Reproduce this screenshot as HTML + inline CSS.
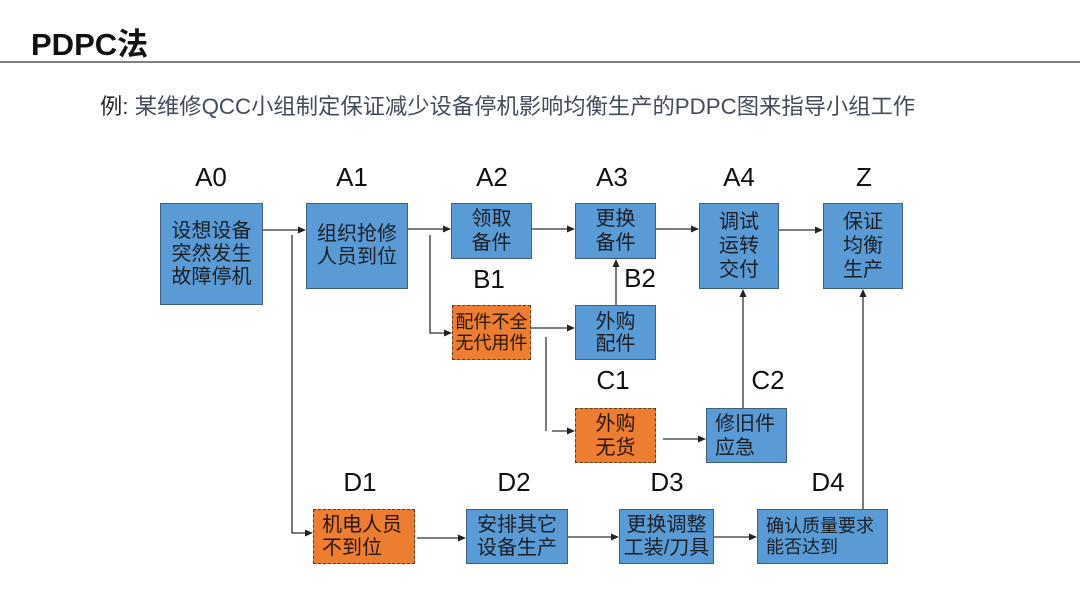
<!DOCTYPE html>
<html>
<head>
<meta charset="utf-8">
<style>
  html,body{margin:0;padding:0;background:#fff;}
  body{width:1080px;height:608px;position:relative;overflow:hidden;
       font-family:"Liberation Sans","Noto Sans CJK SC",sans-serif;}
  .title{position:absolute;left:31px;top:25px;font-size:31px;font-weight:bold;color:#111;line-height:40px;}
  .rule{position:absolute;left:0;top:61px;width:1080px;height:2px;background:#808080;}
  .sub{position:absolute;left:100px;top:94px;font-size:22.3px;line-height:26px;color:#434c5a;white-space:nowrap;}
  .sub b{font-weight:normal;color:#2b2b2b;}
  .box{position:absolute;box-sizing:border-box;display:flex;flex-direction:column;justify-content:center;align-items:center;
       font-size:20px;line-height:23px;color:#1a1f26;text-align:center;white-space:nowrap;}
  .blue{background:#5b9bd5;border:1.5px solid #3d5f80;}
  .orange{background:#ed7d31;border:1.5px dashed #5e3c22;color:#2a1608;}
  .left{align-items:flex-start;padding-left:8px;text-align:left;}
  .lbl{position:absolute;width:80px;margin-left:-40px;text-align:center;font-size:26px;line-height:30px;color:#111;}
  svg{position:absolute;left:0;top:0;}
</style>
</head>
<body>
  <div class="title">PDPC法</div>
  <div class="rule"></div>
  <div class="sub"><b>例:</b> 某维修QCC小组制定保证减少设备停机影响均衡生产的PDPC图来指导小组工作</div>

  <!-- labels -->
  <div class="lbl" style="left:211px;top:162px;">A0</div>
  <div class="lbl" style="left:352px;top:162px;">A1</div>
  <div class="lbl" style="left:492px;top:162px;">A2</div>
  <div class="lbl" style="left:612px;top:162px;">A3</div>
  <div class="lbl" style="left:739px;top:162px;">A4</div>
  <div class="lbl" style="left:864px;top:162px;">Z</div>
  <div class="lbl" style="left:489px;top:264px;">B1</div>
  <div class="lbl" style="left:640px;top:263px;">B2</div>
  <div class="lbl" style="left:613px;top:365px;">C1</div>
  <div class="lbl" style="left:768px;top:365px;">C2</div>
  <div class="lbl" style="left:360px;top:467px;">D1</div>
  <div class="lbl" style="left:514px;top:467px;">D2</div>
  <div class="lbl" style="left:667px;top:467px;">D3</div>
  <div class="lbl" style="left:828px;top:467px;">D4</div>

  <!-- boxes -->
  <div class="box blue" style="left:160px;top:203px;width:103px;height:102px;"><div>设想设备</div><div>突然发生</div><div>故障停机</div></div>
  <div class="box blue" style="left:306px;top:203px;width:102px;height:86px;"><div>组织抢修</div><div>人员到位</div></div>
  <div class="box blue" style="left:451px;top:203px;width:81px;height:56px;line-height:24px;"><div>领取</div><div>备件</div></div>
  <div class="box blue" style="left:575px;top:203px;width:81px;height:56px;line-height:24px;"><div>更换</div><div>备件</div></div>
  <div class="box blue" style="left:699px;top:203px;width:80px;height:86px;line-height:24px;"><div>调试</div><div>运转</div><div>交付</div></div>
  <div class="box blue" style="left:823px;top:203px;width:80px;height:86px;line-height:24px;"><div>保证</div><div>均衡</div><div>生产</div></div>

  <div class="box orange" style="left:452px;top:305px;width:79px;height:55px;font-size:18px;line-height:21px;"><div>配件不全</div><div>无代用件</div></div>
  <div class="box blue" style="left:575px;top:305px;width:81px;height:55px;line-height:22px;"><div>外购</div><div>配件</div></div>

  <div class="box orange" style="left:575px;top:408px;width:81px;height:55px;line-height:24px;"><div>外购</div><div>无货</div></div>
  <div class="box blue left" style="left:706px;top:408px;width:81px;height:55px;line-height:24px;"><div>修旧件</div><div>应急</div></div>

  <div class="box orange left" style="left:313px;top:509px;width:102px;height:55px;"><div>机电人员</div><div>不到位</div></div>
  <div class="box blue" style="left:466px;top:509px;width:102px;height:55px;"><div>安排其它</div><div>设备生产</div></div>
  <div class="box blue" style="left:619px;top:509px;width:95px;height:55px;"><div>更换调整</div><div>工装/刀具</div></div>
  <div class="box blue left" style="left:757px;top:509px;width:131px;height:55px;font-size:18px;line-height:21px;"><div>确认质量要求</div><div>能否达到</div></div>

  <!-- connectors -->
  <svg width="1080" height="608" viewBox="0 0 1080 608">
    <g stroke="#333" stroke-width="1.3" fill="none">
      <line x1="263" y1="230" x2="300" y2="230"/>
      <polyline points="292,235 292,533 307,533"/>
      <line x1="408" y1="229" x2="445" y2="229"/>
      <polyline points="430,235 430,333 446,333"/>
      <line x1="532" y1="229" x2="569" y2="229"/>
      <line x1="531" y1="328" x2="569" y2="328"/>
      <line x1="546" y1="337" x2="546" y2="431"/>
      <line x1="552" y1="431" x2="569" y2="431"/>
      <line x1="616" y1="305" x2="616" y2="265"/>
      <line x1="656" y1="229" x2="693" y2="229"/>
      <line x1="779" y1="230" x2="817" y2="230"/>
      <line x1="663" y1="439" x2="700" y2="439"/>
      <line x1="743" y1="408" x2="743" y2="295"/>
      <line x1="417" y1="538" x2="460" y2="538"/>
      <line x1="568" y1="537" x2="613" y2="537"/>
      <line x1="714" y1="537" x2="751" y2="537"/>
      <line x1="863" y1="509" x2="863" y2="295"/>
    </g>
    <g fill="#222">
      <polygon points="306,230 298,226.5 298,233.5"/>
      <polygon points="313,533 305,529.5 305,536.5"/>
      <polygon points="451,229 443,225.5 443,232.5"/>
      <polygon points="452,333 444,329.5 444,336.5"/>
      <polygon points="575,229 567,225.5 567,232.5"/>
      <polygon points="575,328 567,324.5 567,331.5"/>
      <polygon points="575,431 567,427.5 567,434.5"/>
      <polygon points="616,259 612.5,267 619.5,267"/>
      <polygon points="699,229 691,225.5 691,232.5"/>
      <polygon points="823,230 815,226.5 815,233.5"/>
      <polygon points="706,439 698,435.5 698,442.5"/>
      <polygon points="743,289 739.5,297 746.5,297"/>
      <polygon points="466,538 458,534.5 458,541.5"/>
      <polygon points="619,537 611,533.5 611,540.5"/>
      <polygon points="757,537 749,533.5 749,540.5"/>
      <polygon points="863,289 859.5,297 866.5,297"/>
    </g>
  </svg>
</body>
</html>
